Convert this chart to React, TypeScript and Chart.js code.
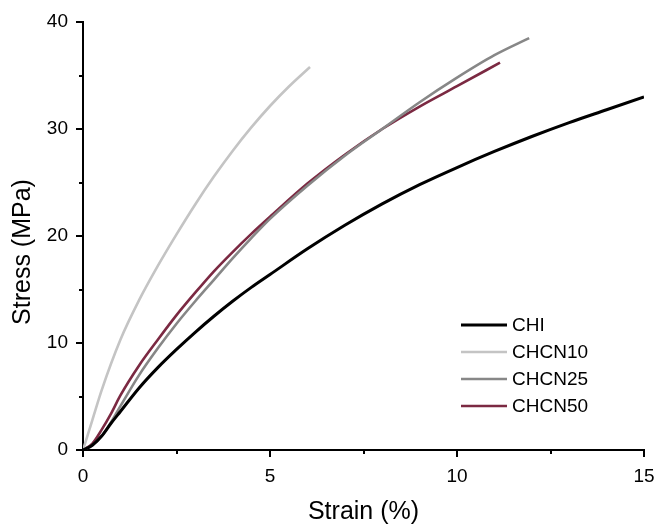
import React, { useEffect, useRef } from "react";
import { Chart, registerables } from "chart.js";

Chart.register(...registerables);

// ---- data ----
const seriesNames = ["CHI", "CHCN10", "CHCN25", "CHCN50"];
const seriesColors = ["#000000", "#c4c4c4", "#878787", "#7b2942"];
const seriesWidths = [3, 2.6, 2.6, 2.6];

const strainCHI = [0, 0.25, 0.5, 0.75, 1.0, 1.5, 2.0, 2.5, 3.0, 3.5, 4.0, 4.5, 5.0, 6.0, 7.0, 8.0, 9.0, 10.0, 11.0, 12.0, 13.0, 14.0, 15.0];
const stressCHI = [0, 0.45, 1.3, 2.5, 3.6, 5.8, 7.7, 9.4, 11.0, 12.5, 13.9, 15.2, 16.4, 18.8, 21.0, 23.0, 24.8, 26.4, 27.9, 29.3, 30.6, 31.8, 33.0];

const strainCHCN10 = [0, 0.25, 0.5, 1.0, 1.5, 2.0, 2.5, 3.0, 3.5, 4.0, 4.5, 5.0, 5.5, 6.07];
const stressCHCN10 = [0, 2.8, 5.6, 10.3, 14.0, 17.2, 20.15, 22.95, 25.55, 27.95, 30.15, 32.15, 33.95, 35.8];

const strainCHCN25 = [0, 0.25, 0.5, 0.75, 1.0, 1.5, 2.0, 2.5, 3.0, 3.5, 4.0, 4.5, 5.0, 6.0, 7.0, 8.0, 9.0, 10.0, 11.0, 11.93];
const stressCHCN25 = [0, 0.45, 1.3, 2.6, 4.1, 7.0, 9.5, 11.8, 13.9, 15.9, 17.9, 19.8, 21.6, 24.7, 27.5, 30.0, 32.5, 34.8, 36.9, 38.5];

const strainCHCN50 = [0, 0.25, 0.5, 0.75, 1.0, 1.5, 2.0, 2.5, 3.0, 3.5, 4.0, 4.5, 5.0, 6.0, 7.0, 8.0, 9.0, 10.0, 11.15];
const stressCHCN50 = [0, 0.6, 1.9, 3.4, 5.1, 7.9, 10.3, 12.6, 14.7, 16.7, 18.5, 20.2, 21.8, 24.9, 27.6, 30.0, 32.1, 34.0, 36.2];

const xMajorTicks = [0, 5, 10, 15];
const xMinorTicks = [2.5, 7.5, 12.5];
const yMajorTicks = [0, 10, 20, 30, 40];
const yMinorTicks = [5, 15, 25, 35];

const xTitle = "Strain (%)";
const yTitle = "Stress (MPa)";

const FONT = "'Liberation Sans', Arial, sans-serif";

function toPoints(xs: number[], ys: number[]) {
  return xs.map((x, i) => ({ x, y: ys[i] }));
}

const overlayPlugin = {
  id: "overlay",
  afterDraw(chart: any) {
    const { ctx, chartArea, scales } = chart;
    const xs = scales.x;
    const ys = scales.y;
    ctx.save();
    // minor ticks
    ctx.strokeStyle = "#000";
    ctx.lineWidth = 2;
    ctx.beginPath();
    for (const v of xMinorTicks) {
      const px = Math.round(xs.getPixelForValue(v));
      ctx.moveTo(px, chartArea.bottom);
      ctx.lineTo(px, chartArea.bottom + 4);
    }
    for (const v of yMinorTicks) {
      const py = Math.round(ys.getPixelForValue(v));
      ctx.moveTo(chartArea.left, py);
      ctx.lineTo(chartArea.left - 4, py);
    }
    ctx.stroke();

    // legend
    const lx0 = chartArea.right - 183;
    const lx1 = chartArea.right - 137;
    const tx = chartArea.right - 132;
    const ly0 = chartArea.top + 303;
    const step = 27;
    ctx.font = `19px ${FONT}`;
    ctx.textAlign = "left";
    ctx.textBaseline = "middle";
    seriesNames.forEach((name, i) => {
      const y = ly0 + i * step;
      ctx.strokeStyle = seriesColors[i];
      ctx.lineWidth = seriesWidths[i];
      ctx.beginPath();
      ctx.moveTo(lx0, y);
      ctx.lineTo(lx1, y);
      ctx.stroke();
      ctx.fillStyle = "#000";
      ctx.fillText(name, tx, y + 1);
    });

    // y title
    ctx.translate(23, chartArea.top + 230);
    ctx.rotate(-Math.PI / 2);
    ctx.font = `25px ${FONT}`;
    ctx.textAlign = "center";
    ctx.textBaseline = "middle";
    ctx.fillStyle = "#000";
    ctx.fillText(yTitle, 0, 0);
    ctx.restore();
  },
};

export default function App() {
  const canvasRef = useRef<HTMLCanvasElement | null>(null);

  useEffect(() => {
    const canvas = canvasRef.current;
    if (!canvas) return;
    const data = [
      toPoints(strainCHI, stressCHI),
      toPoints(strainCHCN10, stressCHCN10),
      toPoints(strainCHCN25, stressCHCN25),
      toPoints(strainCHCN50, stressCHCN50),
    ];
    const chart = new Chart(canvas, {
      type: "line",
      data: {
        datasets: seriesNames.map((name, i) => ({
          label: name,
          data: data[i],
          borderColor: seriesColors[i],
          backgroundColor: seriesColors[i],
          borderWidth: seriesWidths[i],
          pointRadius: 0,
          fill: false,
          cubicInterpolationMode: "monotone" as const,
        })),
      },
      options: {
        animation: false,
        responsive: false,
        devicePixelRatio: 1,
        layout: { padding: { left: 0, right: 10, top: 22, bottom: 0 } },
        plugins: { legend: { display: false }, tooltip: { enabled: false } },
        scales: {
          x: {
            type: "linear",
            min: 0,
            max: 15,
            afterBuildTicks: (scale: any) => {
              scale.ticks = xMajorTicks.map((v) => ({ value: v }));
            },
            afterFit: (scale: any) => {
              scale.height = 75;
              scale.paddingLeft = 0;
              scale.paddingRight = 0;
            },
            ticks: {
              color: "#000",
              font: { family: FONT, size: 19 },
              padding: 8,
              maxRotation: 0,
              autoSkip: false,
            },
            grid: {
              display: true,
              drawOnChartArea: false,
              drawTicks: true,
              tickLength: 7,
              color: "#000",
              lineWidth: 2,
            },
            border: { display: true, color: "#000", width: 2 },
            title: {
              display: true,
              text: xTitle,
              color: "#000",
              font: { family: FONT, size: 25, lineHeight: 1 },
              padding: { top: 0, bottom: 0 },
            },
          },
          y: {
            type: "linear",
            min: 0,
            max: 40,
            afterBuildTicks: (scale: any) => {
              scale.ticks = yMajorTicks.map((v) => ({ value: v }));
            },
            afterFit: (scale: any) => {
              scale.width = 83;
              scale.paddingTop = 0;
              scale.paddingBottom = 0;
            },
            ticks: {
              color: "#000",
              font: { family: FONT, size: 19 },
              padding: 8,
              autoSkip: false,
            },
            grid: {
              display: true,
              drawOnChartArea: false,
              drawTicks: true,
              tickLength: 7,
              color: "#000",
              lineWidth: 2,
            },
            border: { display: true, color: "#000", width: 2 },
          },
        },
      },
      plugins: [overlayPlugin],
    } as any);
    return () => chart.destroy();
  }, []);

  return (
    <div style={{ position: "fixed", left: 0, top: 0, width: 654, height: 525, background: "#fff" }}>
      <canvas ref={canvasRef} width={654} height={525} style={{ width: 654, height: 525, display: "block" }} />
    </div>
  );
}
